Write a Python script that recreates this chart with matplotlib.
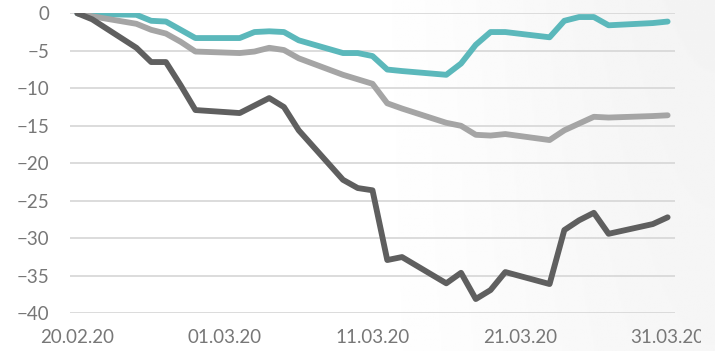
import matplotlib.pyplot as plt
import matplotlib.dates as mdates
from matplotlib.transforms import Bbox
import numpy as np
import pandas as pd

# Trading days, 20 Feb - 31 Mar 2020
dates = ['2020-02-20', '2020-02-21', '2020-02-24', '2020-02-25', '2020-02-26',
         '2020-02-27', '2020-02-28', '2020-03-02', '2020-03-03', '2020-03-04',
         '2020-03-05', '2020-03-06', '2020-03-09', '2020-03-10', '2020-03-11',
         '2020-03-12', '2020-03-13', '2020-03-16', '2020-03-17', '2020-03-18',
         '2020-03-19', '2020-03-20', '2020-03-23', '2020-03-24', '2020-03-25',
         '2020-03-26', '2020-03-27', '2020-03-30', '2020-03-31']

# Cumulative change in %
teal_vals = [0.0, -0.1, -0.2, -1.0, -1.1, -2.2, -3.3, -3.3, -2.5, -2.4,
             -2.5, -3.6, -5.3, -5.3, -5.7, -7.5, -7.7, -8.2, -6.7, -4.2,
             -2.5, -2.5, -3.2, -1.0, -0.5, -0.5, -1.6, -1.3, -1.1]
grey_vals = [0.0, -0.4, -1.4, -2.2, -2.7, -3.8, -5.1, -5.3, -5.1, -4.6,
             -4.9, -6.0, -8.2, -8.8, -9.4, -12.0, -12.7, -14.6, -15.0, -16.2,
             -16.3, -16.1, -16.9, -15.6, -14.7, -13.8, -13.9, -13.7, -13.6]
dark_vals = [0.0, -0.8, -4.6, -6.5, -6.5, -9.6, -12.9, -13.3, -12.3, -11.3,
             -12.5, -15.6, -22.2, -23.3, -23.6, -32.9, -32.5, -36.0, -34.6, -38.1,
             -36.9, -34.5, -36.1, -28.9, -27.6, -26.6, -29.4, -28.1, -27.2]

x = pd.to_datetime(dates)
tick_dates = pd.to_datetime(['2020-02-20', '2020-03-01', '2020-03-11',
                             '2020-03-21', '2020-03-31'])

plt.rcParams['font.family'] = ['Lato', 'DejaVu Sans']

fig = plt.figure(figsize=(7.15, 3.51), dpi=100)

# soft grey shading towards the right edge
bg = fig.add_axes([0, 0, 1, 1], zorder=-1)
gx = np.linspace(0, 1, 400)
gy = np.linspace(0, 1, 200)
GX, GY = np.meshgrid(gx, gy)
t = np.clip((GX - 0.45) / 0.55, 0, 1)
shade = (t * t * (3 - 2 * t)) * (0.035 + 0.01 * GY)
bg.imshow(1 - shade, cmap='gray', vmin=0, vmax=1, aspect='auto',
          extent=[0, 1, 0, 1], origin='lower')
bg.axis('off')

ax = fig.add_axes([70 / 715, 1 - 313.3 / 351, 605 / 715, 300 / 351])
ax.set_facecolor('none')

ax.plot(x, teal_vals, color='#5bb8bb', lw=4.2, solid_capstyle='round', solid_joinstyle='round')
ax.plot(x, grey_vals, color='#a5a5a5', lw=4.2, solid_capstyle='round', solid_joinstyle='round')
ax.plot(x, dark_vals, color='#5f5f5f', lw=4.2, solid_capstyle='round', solid_joinstyle='round')

ax.set_ylim(-40, 0)
ax.set_yticks(np.arange(-40, 1, 5))
ax.set_xlim(pd.Timestamp('2020-02-19 12:00'), pd.Timestamp('2020-03-31 12:00'))
ax.set_xticks(tick_dates)
ax.xaxis.set_major_formatter(mdates.DateFormatter('%d.%m.%y'))

ax.grid(axis='y', color='#d9d9d9', lw=1.3)
ax.set_axisbelow(True)
for s in ax.spines.values():
    s.set_visible(False)
ax.tick_params(length=0, labelsize=13.5, colors='#777777')
ax.tick_params(axis='y', pad=15)
ax.tick_params(axis='x', pad=11)

# last date label is cut off by the frame edge
clip = Bbox.from_extents(0, 0, 701, 351)
for lbl in ax.get_xticklabels():
    lbl.set_clip_on(True)
    lbl.set_clip_box(clip)

fig.savefig('out.png', dpi=100)
